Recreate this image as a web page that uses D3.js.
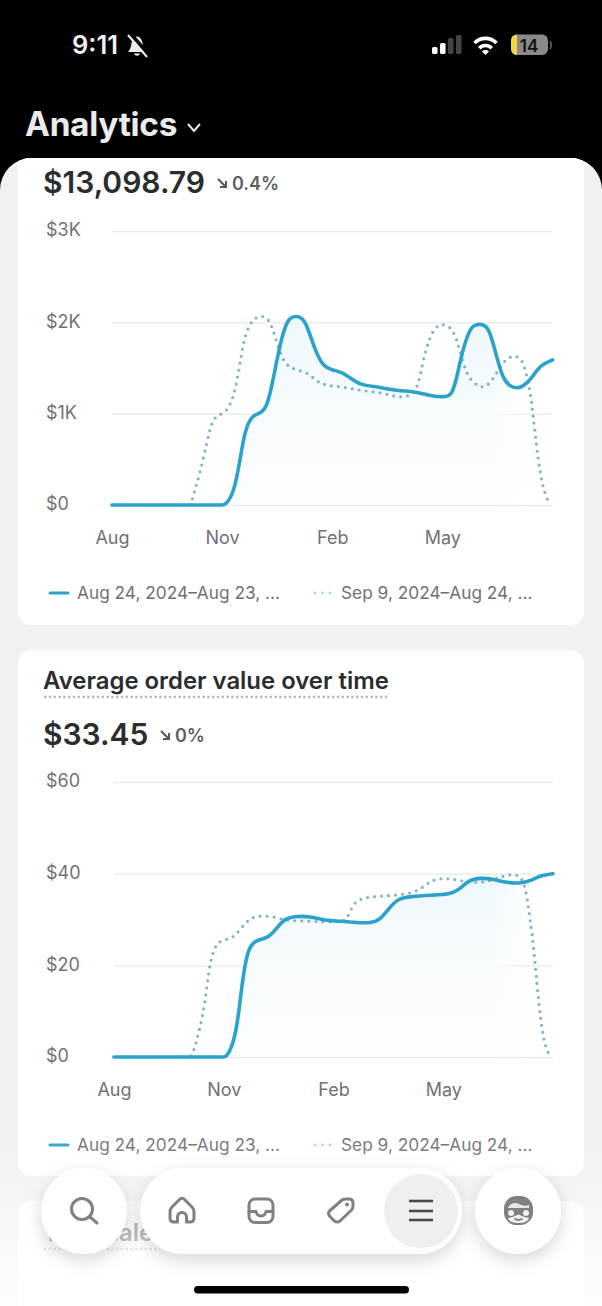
<!DOCTYPE html>
<html>
<head>
<meta charset="utf-8">
<script src="https://cdn.jsdelivr.net/npm/d3@7"></script>
<style>
  html, body { margin: 0; padding: 0; background: #000; }
  svg { display: block; font-family: Inter, "Noto Sans", sans-serif; }
</style>
</head>
<body>
<div id="chart"></div>
<script>
// x values are months since the start of August
const salesMonths = [0, 1, 2, 2.8, 3.0, 3.08, 3.31, 3.49, 3.62, 3.81, 4.03, 4.22, 4.39, 4.58, 4.76, 4.88, 5.03, 5.18, 5.31, 5.53, 5.75, 6.02, 6.29, 6.49, 6.76, 7.21, 7.76, 8.30, 8.66, 9.12, 9.27, 9.42, 9.53, 9.75, 9.89, 10.03, 10.17, 10.30, 10.48, 10.65, 10.93, 11.20, 11.44, 11.66, 12];
const salesValues = [0, 0, 0, 0, 0, 0, 110, 493, 821, 978, 1004, 1062, 1369, 1774, 2007, 2055, 2070, 2045, 1971, 1697, 1514, 1478, 1449, 1391, 1314, 1295, 1252, 1241, 1194, 1179, 1215, 1440, 1664, 1938, 1970, 1982, 1965, 1898, 1624, 1369, 1270, 1292, 1391, 1533, 1588];
const salesPrevMonths = [0, 1, 1.8, 2.0, 2.15, 2.20, 2.40, 2.58, 2.72, 2.85, 3.13, 3.30, 3.43, 3.53, 3.64, 3.81, 3.95, 4.08, 4.20, 4.31, 4.49, 4.66, 4.90, 5.31, 5.58, 5.85, 6.29, 6.76, 7.38, 7.76, 8.12, 8.35, 8.47, 8.66, 8.82, 8.98, 9.14, 9.30, 9.48, 9.66, 10.03, 10.30, 10.65, 10.82, 10.98, 11.10, 11.20, 11.39, 11.46, 11.57, 11.66, 11.77, 11.93];
const salesPrevValues = [0, 0, 0, 0, 0, 88, 350, 679, 912, 978, 1018, 1172, 1405, 1664, 1883, 2018, 2055, 2070, 2050, 2007, 1788, 1569, 1486, 1460, 1350, 1306, 1295, 1252, 1230, 1179, 1186, 1295, 1588, 1843, 1950, 1982, 1960, 1916, 1697, 1405, 1270, 1314, 1569, 1615, 1635, 1610, 1569, 1281, 1007, 638, 350, 146, 0];
const salesTicks = [0, 1000, 2000, 3000];
const salesTickLabels = ["$0", "$1K", "$2K", "$3K"];

const aovMonths = [0, 1, 2, 2.8, 3.0, 3.06, 3.22, 3.36, 3.45, 3.54, 3.67, 3.86, 4.22, 4.45, 4.67, 5.04, 5.45, 5.82, 6.18, 6.64, 7.00, 7.28, 7.55, 7.78, 8.10, 8.65, 9.19, 9.42, 9.69, 10.01, 10.38, 10.74, 11.15, 11.43, 11.65, 12];
const aovValues = [0, 0, 0, 0, 0, 0, 1.9, 6.6, 12.4, 18.3, 23.7, 25.5, 25.9, 28.1, 30.3, 30.8, 30.5, 29.7, 29.7, 29.3, 29.2, 29.9, 32.8, 34.6, 35.0, 35.3, 35.5, 36.4, 38.6, 39.1, 38.8, 38.0, 37.9, 38.6, 39.6, 40.0];
const aovPrevMonths = [0, 1, 1.8, 2.0, 2.08, 2.17, 2.35, 2.49, 2.58, 2.67, 2.81, 3.13, 3.31, 3.54, 3.77, 4.08, 4.45, 4.73, 5.27, 5.82, 6.32, 6.41, 6.55, 6.73, 7.05, 7.55, 8.24, 8.56, 8.78, 9.10, 9.47, 9.83, 10.29, 10.65, 10.97, 11.15, 11.26, 11.33, 11.43, 11.52, 11.61, 11.70, 11.79, 11.93];
const aovPrevValues = [0, 0, 0, 0, 0, 0.9, 6.3, 11.8, 18.3, 21.9, 25.2, 25.7, 26.4, 28.8, 30.6, 30.8, 30.5, 29.7, 29.7, 29.4, 29.5, 31.0, 33.5, 34.5, 35.0, 35.2, 35.7, 37.9, 38.8, 39.0, 38.5, 38.0, 38.3, 39.6, 39.9, 39.2, 36.4, 32.4, 27.0, 19.7, 11.7, 5.9, 2.2, 0];
const aovTicks = [0, 20, 40, 60];
const aovTickLabels = ["$0", "$20", "$40", "$60"];

const monthTicks = [0, 3, 6, 9];
const monthLabels = ["Aug", "Nov", "Feb", "May"];
const legendLabels = ["Aug 24, 2024–Aug 23, ...", "Sep 9, 2024–Aug 24, ..."];

const WIDTH = 602, HEIGHT = 1306;
const LINE_COLOR = "#2ba2cb";
const DOT_COLOR = "#80b6c9";
const TEXT_DARK = "#2b2c2e";
const TEXT_MUTED = "#6f7174";

const svg = d3.select("#chart").append("svg")
  .attr("width", WIDTH)
  .attr("height", HEIGHT)
  .attr("viewBox", `0 0 ${WIDTH} ${HEIGHT}`);

const defs = svg.append("defs");

// vertical tint under the main line
const tint = defs.append("linearGradient").attr("id", "tint")
  .attr("x1", 0).attr("x2", 0).attr("y1", 0).attr("y2", 1);
tint.append("stop").attr("offset", "0%").attr("stop-color", "#f0f8fc");
tint.append("stop").attr("offset", "100%").attr("stop-color", "#fdfeff");

// the tint dies away just before the right edge of the plot
const fade = defs.append("linearGradient").attr("id", "sideFade")
  .attr("x1", 0).attr("x2", 1).attr("y1", 0).attr("y2", 0);
fade.append("stop").attr("offset", "86%").attr("stop-color", "#fff");
fade.append("stop").attr("offset", "96%").attr("stop-color", "#000");
defs.append("mask").attr("id", "sideMask")
  .attr("maskContentUnits", "objectBoundingBox")
  .append("rect").attr("width", 1).attr("height", 1).attr("fill", "url(#sideFade)");

const veil = defs.append("linearGradient").attr("id", "veil")
  .attr("x1", 0).attr("x2", 0).attr("y1", 0).attr("y2", 1);
veil.append("stop").attr("offset", "0%").attr("stop-color", "#fff").attr("stop-opacity", 0);
veil.append("stop").attr("offset", "100%").attr("stop-color", "#fff").attr("stop-opacity", 0.85);

const softShadow = defs.append("filter").attr("id", "softShadow")
  .attr("x", "-30%").attr("y", "-30%").attr("width", "160%").attr("height", "180%");
softShadow.append("feDropShadow")
  .attr("dx", 0).attr("dy", 6).attr("stdDeviation", 9)
  .attr("flood-color", "#000").attr("flood-opacity", 0.16);

// page background
svg.append("rect").attr("width", WIDTH).attr("height", HEIGHT).attr("fill", "#000");
svg.append("rect").attr("y", 158).attr("width", WIDTH).attr("height", HEIGHT).attr("rx", 32).attr("fill", "#f1f1f1");

// status bar
svg.append("text").attr("x", 72).attr("y", 54).attr("fill", "#f2f2f2")
  .attr("font-size", 25.5).attr("font-weight", 600).text("9:11");
const bell = svg.append("g").attr("transform", "translate(127,35)");
bell.append("path").attr("d", "M1 17 C4 14 4 10 5 6 C7 0 13 0 15 6 C16 10 16 14 19 17 Z").attr("fill", "#ededed");
bell.append("path").attr("d", "M7 18.5 C8 21.5 12 21.5 13 18.5 Z").attr("fill", "#ededed");
bell.append("path").attr("d", "M3 -2 L22 20").attr("stroke", "#000").attr("stroke-width", 3.5);
bell.append("path").attr("d", "M1 0 L20 22").attr("stroke", "#ededed").attr("stroke-width", 2);

const signalBars = [[432, 7, "#fff"], [440, 11, "#fff"], [448, 16, "#444"], [456, 19, "#444"]];
svg.selectAll(".signal").data(signalBars).enter().append("rect")
  .attr("class", "signal")
  .attr("x", d => d[0])
  .attr("y", d => 54 - d[1])
  .attr("width", 5.5)
  .attr("height", d => d[1])
  .attr("rx", 1.5)
  .attr("fill", d => d[2]);

const wifi = svg.append("g").attr("transform", "translate(485.5,54)")
  .attr("fill", "none").attr("stroke", "#fff").attr("stroke-width", 3.6);
wifi.append("path").attr("d", "M-11 -11 A 15.5 15.5 0 0 1 11 -11");
wifi.append("path").attr("d", "M-6.2 -5.8 A 8.5 8.5 0 0 1 6.2 -5.8");
wifi.append("path").attr("d", "M-3.5 -2.5 A 5 5 0 0 1 3.5 -2.5 L0 1 Z").attr("fill", "#fff").attr("stroke", "none");

svg.append("rect").attr("x", 511).attr("y", 34.5).attr("width", 37).attr("height", 20.5).attr("rx", 6).attr("fill", "#8a8a8a");
svg.append("path").attr("d", "M517 34.5 a6 6 0 0 0 -6 6 v8.5 a6 6 0 0 0 6 6 Z").attr("fill", "#f5d63d");
svg.append("path").attr("d", "M550 41 q2.5 4 0 8").attr("fill", "none").attr("stroke", "#666").attr("stroke-width", 1.5);
svg.append("text").attr("x", 529).attr("y", 51.5).attr("text-anchor", "middle").attr("fill", "#111")
  .attr("font-size", 17).attr("font-weight", 600).text("14");

svg.append("text").attr("x", 25).attr("y", 136).attr("fill", "#ebebeb")
  .attr("font-size", 33.4).attr("font-weight", 700).attr("letter-spacing", -0.3).text("Analytics");
svg.append("path").attr("d", "M188 124 L194 131 L200 124")
  .attr("fill", "none").attr("stroke", "#ebebeb").attr("stroke-width", 2);

// first card runs up under the header, so clip it to the rounded panel
const panelClip = defs.append("clipPath").attr("id", "panelClip");
panelClip.append("rect").attr("y", 158).attr("width", WIDTH).attr("height", HEIGHT).attr("rx", 32);

const panel = svg.append("g").attr("clip-path", "url(#panelClip)");
panel.append("rect").attr("x", 0).attr("y", 158).attr("width", WIDTH).attr("height", 8).attr("fill", "#fff");

function drawCard(o) {
  const card = panel.append("g");
  card.append("rect")
    .attr("x", 18).attr("y", o.cardTop)
    .attr("width", 566).attr("height", o.cardBottom - o.cardTop)
    .attr("rx", 13).attr("fill", "#fff");

  if (o.title) {
    card.append("text").attr("x", 43).attr("y", o.titleY)
      .attr("font-size", 23.9).attr("font-weight", 600).attr("fill", TEXT_DARK).text(o.title);
    card.append("line")
      .attr("x1", 44).attr("x2", 388).attr("y1", o.titleY + 8).attr("y2", o.titleY + 8)
      .attr("stroke", "#b9b9b9").attr("stroke-width", 2.4).attr("stroke-dasharray", "2.4 2.4");
  }

  card.append("text").attr("x", 43).attr("y", o.totalY)
    .attr("font-size", 30).attr("font-weight", 600).attr("fill", TEXT_DARK).text(o.total);
  const arrowX = o.deltaX;
  card.append("path")
    .attr("d", `M${arrowX} ${o.totalY - 14} L${arrowX + 8} ${o.totalY - 6} M${arrowX + 8} ${o.totalY - 12} V${o.totalY - 6} H${arrowX + 2}`)
    .attr("fill", "none").attr("stroke", "#55585b").attr("stroke-width", 2);
  card.append("text").attr("x", arrowX + 14).attr("y", o.totalY - 3)
    .attr("font-size", 18).attr("font-weight", 600).attr("fill", "#5c5f62").text(o.delta);

  const x = d3.scaleLinear().domain([0, 12]).range(o.xRange);
  const y = d3.scaleLinear().domain(o.yDomain).range(o.yRange);

  const yAxis = d3.axisLeft(y)
    .tickValues(o.ticks)
    .tickFormat((d, i) => o.tickLabels[i])
    .tickSize(-(o.xRange[1] - o.xRange[0]));
  const yG = card.append("g").attr("transform", `translate(${o.xRange[0]},0)`).call(yAxis);
  yG.select(".domain").remove();
  yG.selectAll(".tick line").attr("stroke", "#ececec").attr("stroke-width", 1.5);
  yG.selectAll(".tick text")
    .attr("x", 46 - o.xRange[0]).attr("dy", "0.27em").attr("text-anchor", "start")
    .attr("font-family", "Inter, sans-serif").attr("font-size", 18).attr("fill", TEXT_MUTED);

  const xAxis = d3.axisBottom(x)
    .tickValues(monthTicks)
    .tickFormat((d, i) => monthLabels[i])
    .tickSize(0)
    .tickPadding(26);
  const xG = card.append("g").attr("transform", `translate(0,${o.yRange[0]})`).call(xAxis);
  xG.select(".domain").remove();
  xG.selectAll(".tick text")
    .attr("font-family", "Inter, sans-serif").attr("font-size", 18).attr("fill", TEXT_MUTED);

  const main = o.months.map((m, i) => ({ m, v: o.values[i] }));
  const prev = o.prevMonths.map((m, i) => ({ m, v: o.prevValues[i] }));

  // basis never dips under the flat zero stretch
  const area = d3.area().curve(d3.curveBasis)
    .x(d => x(d.m)).y0(y(0)).y1(d => y(d.v));
  const line = d3.line().curve(d3.curveBasis)
    .x(d => x(d.m)).y(d => y(d.v));

  card.append("g").attr("mask", "url(#sideMask)")
    .append("path").datum(main).attr("d", area).attr("fill", "url(#tint)");
  card.append("path").datum(prev).attr("d", line)
    .attr("fill", "none").attr("stroke", DOT_COLOR)
    .attr("stroke-width", 3.2).attr("stroke-linecap", "round").attr("stroke-dasharray", "0 7");
  card.append("path").datum(main).attr("d", line)
    .attr("fill", "none").attr("stroke", LINE_COLOR)
    .attr("stroke-width", 3.6).attr("stroke-linecap", "round");

  // legend
  const ly = o.legendY;
  card.append("line").attr("x1", 50).attr("x2", 68).attr("y1", ly).attr("y2", ly)
    .attr("stroke", LINE_COLOR).attr("stroke-width", 3).attr("stroke-linecap", "round");
  card.append("line").attr("x1", 315).attr("x2", 333).attr("y1", ly).attr("y2", ly)
    .attr("stroke", "#a6d6e6").attr("stroke-width", 2.8).attr("stroke-linecap", "round")
    .attr("stroke-dasharray", "0 7.5");
  card.selectAll(".legend-label").data(legendLabels).enter().append("text")
    .attr("class", "legend-label")
    .attr("x", (d, i) => i === 0 ? 77 : 341)
    .attr("y", ly + 6)
    .attr("font-size", 17.3)
    .attr("fill", TEXT_MUTED)
    .text(d => d);
}

drawCard({
  cardTop: 100, cardBottom: 625, totalY: 193, total: "$13,098.79", deltaX: 218, delta: "0.4%",
  xRange: [112, 552.5], yRange: [505, 231], yDomain: [0, 3000],
  ticks: salesTicks, tickLabels: salesTickLabels,
  months: salesMonths, values: salesValues, prevMonths: salesPrevMonths, prevValues: salesPrevValues,
  legendY: 593
});

drawCard({
  cardTop: 650, cardBottom: 1176, title: "Average order value over time", titleY: 689,
  totalY: 745, total: "$33.45", deltaX: 161, delta: "0%",
  xRange: [114, 553], yRange: [1057, 782], yDomain: [0, 60],
  ticks: aovTicks, tickLabels: aovTickLabels,
  months: aovMonths, values: aovValues, prevMonths: aovPrevMonths, prevValues: aovPrevValues,
  legendY: 1145
});

// third card, mostly hidden behind the tab bar
panel.append("rect").attr("x", 18).attr("y", 1201).attr("width", 566).attr("height", 200).attr("rx", 13).attr("fill", "#fff");
panel.append("text").attr("x", 43).attr("y", 1241)
  .attr("font-size", 23.9).attr("font-weight", 600).attr("fill", "#7d7d7d").text("Total sales");
panel.append("line").attr("x1", 44).attr("x2", 160).attr("y1", 1249).attr("y2", 1249)
  .attr("stroke", "#c4c4c4").attr("stroke-width", 2.4).attr("stroke-dasharray", "2.4 2.4");

// the page washes out toward the bottom of the screen
svg.append("rect").attr("y", 1130).attr("width", WIDTH).attr("height", 176).attr("fill", "url(#veil)");

// tab bar
const tabs = svg.append("g");
tabs.append("circle").attr("cx", 84).attr("cy", 1211).attr("r", 43).attr("fill", "#fff").attr("filter", "url(#softShadow)");
tabs.append("rect").attr("x", 140).attr("y", 1168).attr("width", 322).attr("height", 86).attr("rx", 43).attr("fill", "#fff").attr("filter", "url(#softShadow)");
tabs.append("circle").attr("cx", 518).attr("cy", 1211).attr("r", 43).attr("fill", "#fff").attr("filter", "url(#softShadow)");
tabs.append("circle").attr("cx", 421).attr("cy", 1211).attr("r", 37).attr("fill", "#efefef");

const iconColor = "#808080";
const icons = svg.append("g").attr("fill", "none").attr("stroke", iconColor).attr("stroke-width", 3)
  .attr("stroke-linecap", "round").attr("stroke-linejoin", "round");
// search
icons.append("circle").attr("cx", 82).attr("cy", 1209).attr("r", 10.5);
icons.append("path").attr("d", "M90 1217 L97 1223");
// home
icons.append("path").attr("d", "M170 1218 V1212 Q170 1209 172 1207 L180 1199 Q182 1197.5 184 1199 L192 1207 Q194 1209 194 1212 V1218 Q194 1222 190 1222 H186.5 V1217 C186.5 1211 177.5 1211 177.5 1217 V1222 H174 Q170 1222 170 1218 Z");
// inbox
icons.append("rect").attr("x", 249).attr("y", 1199).attr("width", 24).attr("height", 23.5).attr("rx", 6);
icons.append("path").attr("d", "M249 1211.5 H256 Q257 1216 261 1216 Q265 1216 266 1211.5 H273");
// tag
icons.append("path").attr("d", "M329.5 1211 L342 1200 Q343.5 1199 346 1199 L349 1199 Q353 1199 353 1203 V1206 Q353 1208.5 351.5 1210 L340 1221 Q337 1223 334.5 1221 L329.5 1216 Q327.5 1213 329.5 1211 Z");
svg.append("circle").attr("cx", 347).attr("cy", 1204.5).attr("r", 1.9).attr("fill", iconColor);
// menu
svg.append("g").selectAll("line").data([1201, 1211, 1220]).enter().append("line")
  .attr("x1", 409).attr("x2", 433).attr("y1", d => d).attr("y2", d => d)
  .attr("stroke", "#4a4a4a").attr("stroke-width", 2.6);
// avatar
const avatar = svg.append("g");
avatar.append("rect").attr("x", 504).attr("y", 1196).attr("width", 29).attr("height", 29).attr("rx", 12.5).attr("fill", iconColor);
avatar.append("path").attr("d", "M508 1207 Q513 1201 519 1204 Q524 1207 529 1205 L529 1208 L508 1208 Z").attr("fill", "#e6e6e6");
avatar.append("path").attr("d", "M508 1218 Q512 1217.5 518.5 1214.5 Q525 1217.5 529 1218 Q528 1223 518.5 1223 Q509 1223 508 1218 Z").attr("fill", "#f0f0f0");
avatar.append("circle").attr("cx", 511).attr("cy", 1213).attr("r", 3).attr("fill", "#f0f0f0");
avatar.append("circle").attr("cx", 526).attr("cy", 1213).attr("r", 3).attr("fill", "#f0f0f0");
avatar.append("path").attr("d", "M514.5 1218.5 Q518.5 1221.5 522.5 1218.5").attr("fill", "none").attr("stroke", iconColor).attr("stroke-width", 1.8);

// home indicator
svg.append("rect").attr("x", 194).attr("y", 1286).attr("width", 215).attr("height", 7.5).attr("rx", 3.7).attr("fill", "#000");
</script>
</body>
</html>
